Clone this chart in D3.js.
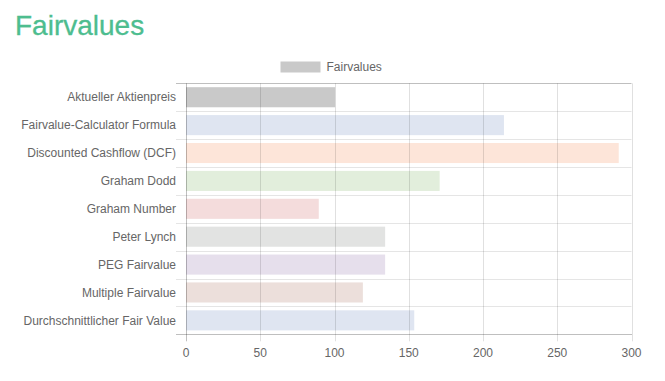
<!DOCTYPE html>
<html>
<head>
<meta charset="utf-8">
<script src="https://cdn.jsdelivr.net/npm/d3@7"></script>
<style>
  html, body { margin: 0; padding: 0; background: #fff; }
  svg { display: block; }
</style>
</head>
<body>
<svg id="chart" width="665" height="381"></svg>
<script>
const categories = [
  "Aktueller Aktienpreis",
  "Fairvalue-Calculator Formula",
  "Discounted Cashflow (DCF)",
  "Graham Dodd",
  "Graham Number",
  "Peter Lynch",
  "PEG Fairvalue",
  "Multiple Fairvalue",
  "Durchschnittlicher Fair Value"
];
const values = [100.4, 214.1, 291.4, 170.8, 89.4, 134.1, 134.1, 119.1, 153.7];
const barColors = ["#c9c9c9", "#dfe5f1", "#fde5d9", "#e2eedc", "#f4dcdc", "#e2e3e2", "#e6dfec", "#ecdfdb", "#dfe5f1"];
const xTicks = [0, 50, 100, 150, 200, 250, 300];
const titleText = "Fairvalues";
const legendLabel = "Fairvalues";

(function () {
const font = "'Liberation Sans', Arial, Helvetica, sans-serif";
const svg = d3.select("#chart");

const pLeft = 186, pRight = 631.5, pTop = 83.3, pBottom = 334.3;
const x = d3.scaleLinear().domain([0, 300]).range([pLeft, pRight]);
const y = d3.scaleBand().domain(categories).range([pTop, pBottom]).padding(0);
const bw = y.bandwidth();

// Title
svg.append("text")
  .attr("x", 15).attr("y", 35)
  .attr("font-family", font).attr("font-size", 28)
  .attr("fill", "#4dbd8f")
  .attr("stroke", "#4dbd8f").attr("stroke-width", 0.3)
  .text(titleText);

// Legend
svg.append("rect").attr("x", 280.5).attr("y", 61.5).attr("width", 40).attr("height", 11)
  .attr("fill", barColors[0]);
svg.append("text").attr("x", 326.5).attr("y", 71.3)
  .attr("font-family", font).attr("font-size", 12).attr("fill", "#666")
  .text(legendLabel);

// Bars
svg.append("g").selectAll("rect").data(values).join("rect")
  .attr("x", x(0))
  .attr("y", (d, i) => y(categories[i]) + bw * 0.14)
  .attr("width", d => x(d) - x(0))
  .attr("height", bw * 0.72)
  .attr("fill", (d, i) => barColors[i]);

// Grid
const grid = svg.append("g");
const bounds = categories.map(c => y(c));
grid.selectAll("line.h").data(bounds).join("line")
  .attr("class", "h")
  .attr("x1", pLeft - 10).attr("x2", pRight)
  .attr("y1", d => Math.round(d) + 0.5).attr("y2", d => Math.round(d) + 0.5)
  .attr("stroke", (d, i) => i === 0 ? "rgba(0,0,0,0.25)" : "rgba(0,0,0,0.1)")
  .attr("stroke-width", 1);
grid.selectAll("line.v").data(xTicks).join("line")
  .attr("class", "v")
  .attr("x1", d => Math.round(x(d)) + 0.5).attr("x2", d => Math.round(x(d)) + 0.5)
  .attr("y1", pTop).attr("y2", pBottom + 7)
  .attr("stroke", d => d === 0 ? "rgba(0,0,0,0.25)" : "rgba(0,0,0,0.12)")
  .attr("stroke-width", 1);
grid.append("line")
  .attr("x1", pLeft - 10).attr("x2", pRight + 0.5)
  .attr("y1", Math.round(pBottom) + 0.5).attr("y2", Math.round(pBottom) + 0.5)
  .attr("stroke", "rgba(0,0,0,0.25)");

// Y axis labels
svg.append("g").selectAll("text").data(categories).join("text")
  .attr("x", 176)
  .attr("y", d => y(d) + bw / 2 + 4.2)
  .attr("text-anchor", "end")
  .attr("font-family", font).attr("font-size", 12).attr("fill", "#666")
  .text(d => d);

// X axis labels
svg.append("g").selectAll("text").data(xTicks).join("text")
  .attr("x", d => x(d))
  .attr("y", 356.5)
  .attr("text-anchor", "middle")
  .attr("font-family", font).attr("font-size", 12).attr("fill", "#666")
  .text(d => d);
})();
</script>
</body>
</html>
